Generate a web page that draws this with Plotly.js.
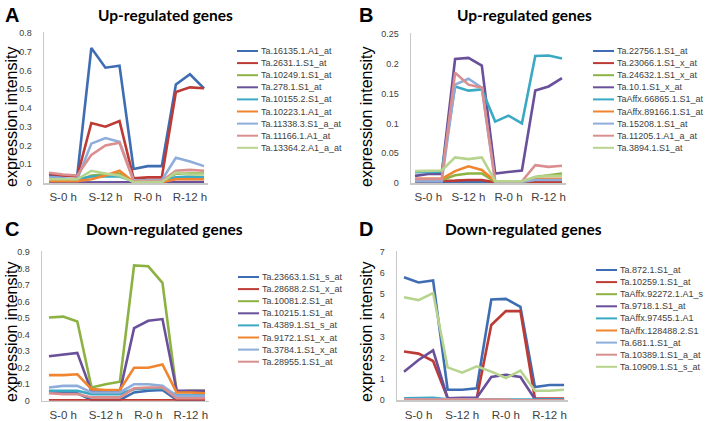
<!DOCTYPE html>
<html>
<head>
<meta charset="utf-8">
<script src="https://cdn.plot.ly/plotly-3.0.1.min.js"></script>
<style>
  html, body { margin: 0; padding: 0; background: #fff; }
  #plot { width: 707px; height: 421px; }
</style>
</head>
<body>
<div id="plot"></div>
<script>
// Условия (по 3 повтора на каждое)
const conditions = ["S-0 h", "S-12 h", "R-0 h", "R-12 h"];
const replicates = 3;

// Цвета линий (палитра Excel)
const lineColors = ["#3f6db3", "#bd3a35", "#8db244", "#6a4f9a", "#3aa9c3",
                    "#f0842f", "#8eaddb", "#da8f8e", "#b7d48e"];

// A: Up-regulated genes
const genesA = ["Ta.16135.1.A1_at", "Ta.2631.1.S1_at", "Ta.10249.1.S1_at", "Ta.278.1.S1_at",
  "Ta.10155.2.S1_at", "Ta.10223.1.A1_at", "Ta.11338.3.S1_a_at", "Ta.11166.1.A1_at", "Ta.13364.2.A1_a_at"];
const valuesA = [
  [0.04, 0.04, 0.04, 0.72, 0.615, 0.625, 0.075, 0.09, 0.09, 0.525, 0.58, 0.505],
  [0.05, 0.04, 0.035, 0.32, 0.30, 0.33, 0.025, 0.03, 0.03, 0.485, 0.51, 0.505],
  [0.01, 0.01, 0.01, 0.04, 0.045, 0.05, 0.005, 0.005, 0.005, 0.05, 0.05, 0.05],
  [0.002, 0.002, 0.002, 0.005, 0.005, 0.005, 0.002, 0.002, 0.002, 0.005, 0.005, 0.005],
  [0.02, 0.02, 0.02, 0.035, 0.035, 0.035, 0.01, 0.01, 0.01, 0.03, 0.035, 0.03],
  [0.01, 0.01, 0.01, 0.02, 0.04, 0.065, 0.005, 0.005, 0.005, 0.02, 0.02, 0.02],
  [0.03, 0.025, 0.02, 0.21, 0.24, 0.22, 0.015, 0.015, 0.015, 0.135, 0.115, 0.09],
  [0.055, 0.045, 0.04, 0.15, 0.20, 0.215, 0.01, 0.01, 0.01, 0.065, 0.07, 0.065],
  [0.02, 0.02, 0.02, 0.065, 0.05, 0.04, 0.005, 0.005, 0.005, 0.055, 0.045, 0.045]
];

// B: Up-regulated genes
const genesB = ["Ta.22756.1.S1_at", "Ta.23066.1.S1_x_at", "Ta.24632.1.S1_x_at", "Ta.10.1.S1_x_at",
  "TaAffx.66865.1.S1_at", "TaAffx.89166.1.S1_at", "Ta.15208.1.S1_at", "Ta.11205.1.A1_a_at", "Ta.3894.1.S1_at"];
const valuesB = [
  [0.001, 0.001, 0.001, 0.002, 0.002, 0.002, 0.001, 0.001, 0.001, 0.002, 0.002, 0.002],
  [0.003, 0.003, 0.003, 0.004, 0.005, 0.005, 0.001, 0.001, 0.001, 0.002, 0.002, 0.002],
  [0.005, 0.005, 0.005, 0.013, 0.016, 0.016, 0.002, 0.002, 0.002, 0.010, 0.013, 0.016],
  [0.012, 0.015, 0.015, 0.208, 0.210, 0.197, 0.016, 0.019, 0.021, 0.155, 0.162, 0.176],
  [0.018, 0.019, 0.019, 0.162, 0.155, 0.157, 0.103, 0.113, 0.100, 0.213, 0.214, 0.209],
  [0.007, 0.007, 0.007, 0.020, 0.028, 0.022, 0.003, 0.003, 0.003, 0.007, 0.007, 0.007],
  [0.003, 0.003, 0.003, 0.165, 0.175, 0.160, 0.002, 0.002, 0.002, 0.005, 0.005, 0.005],
  [0.007, 0.007, 0.007, 0.185, 0.165, 0.160, 0.003, 0.003, 0.003, 0.030, 0.027, 0.029],
  [0.020, 0.021, 0.021, 0.043, 0.040, 0.043, 0.003, 0.003, 0.003, 0.010, 0.012, 0.012]
];

// C: Down-regulated genes
const genesC = ["Ta.23663.1.S1_s_at", "Ta.28688.2.S1_x_at", "Ta.10081.2.S1_at", "Ta.10215.1.S1_at",
  "Ta.4389.1.S1_s_at", "Ta.9172.1.S1_x_at", "Ta.3784.1.S1_x_at", "Ta.28955.1.S1_at"];
const valuesC = [
  [0.05, 0.05, 0.045, 0.005, 0.005, 0.005, 0.05, 0.06, 0.065, 0.005, 0.005, 0.005],
  [0.002, 0.002, 0.002, 0.002, 0.002, 0.002, 0.002, 0.002, 0.002, 0.002, 0.002, 0.002],
  [0.505, 0.51, 0.48, 0.08, 0.10, 0.115, 0.82, 0.815, 0.715, 0.055, 0.06, 0.06],
  [0.27, 0.28, 0.29, 0.055, 0.055, 0.055, 0.44, 0.485, 0.495, 0.06, 0.06, 0.06],
  [0.06, 0.06, 0.06, 0.04, 0.04, 0.04, 0.07, 0.075, 0.075, 0.035, 0.035, 0.035],
  [0.155, 0.155, 0.16, 0.07, 0.065, 0.065, 0.20, 0.20, 0.22, 0.05, 0.05, 0.045],
  [0.08, 0.09, 0.09, 0.05, 0.05, 0.05, 0.10, 0.10, 0.09, 0.03, 0.03, 0.03],
  [0.045, 0.04, 0.04, 0.02, 0.02, 0.02, 0.075, 0.08, 0.08, 0.015, 0.015, 0.015]
];

// D: Down-regulated genes
const genesD = ["Ta.872.1.S1_at", "Ta.10259.1.S1_at", "TaAffx.92272.1.A1_s", "Ta.9718.1.S1_at",
  "TaAffx.97455.1.A1", "TaAffx.128488.2.S1", "Ta.681.1.S1_at", "Ta.10389.1.S1_a_at", "Ta.10909.1.S1_s_at"];
const valuesD = [
  [5.8, 5.55, 5.65, 0.5, 0.5, 0.57, 4.75, 4.78, 4.4, 0.62, 0.72, 0.72],
  [2.3, 2.2, 1.85, 0.1, 0.1, 0.1, 3.55, 4.2, 4.2, 0.08, 0.08, 0.08],
  [0.05, 0.05, 0.05, 0.03, 0.03, 0.03, 0.05, 0.05, 0.05, 0.03, 0.03, 0.03],
  [1.35, 1.9, 2.35, 0.1, 0.12, 0.12, 1.1, 1.2, 1.1, 0.05, 0.05, 0.05],
  [0.1, 0.12, 0.12, 0.05, 0.05, 0.05, 0.05, 0.05, 0.05, 0.03, 0.03, 0.03],
  [0.03, 0.03, 0.03, 0.02, 0.02, 0.02, 0.03, 0.03, 0.03, 0.02, 0.02, 0.02],
  [0.05, 0.05, 0.05, 0.03, 0.03, 0.03, 0.05, 0.05, 0.05, 0.03, 0.03, 0.03],
  [0.04, 0.04, 0.04, 0.02, 0.02, 0.02, 0.04, 0.04, 0.04, 0.02, 0.02, 0.02],
  [4.85, 4.72, 5.05, 1.55, 1.3, 1.6, 1.35, 1.05, 1.4, 0.45, 0.45, 0.5]
];

const W = 707, H = 421;
const px = (x) => x / W;
const py = (y) => 1 - y / H;

// Позиции по оси x: индекс образца
const xs = [];
conditions.forEach((c, i) => { for (let r = 0; r < replicates; r++) xs.push(i * replicates + r); });
const tickPos = conditions.map((c, i) => i * replicates + 1);

// Описание панелей (в пикселях)
const panels = [
  { id: "A", title: "Up-regulated genes", genes: genesA, values: valuesA,
    xd: [44, 208], yd: [33, 183], xr: [-0.36, 11.28], yr: [0, 0.8], dtick: 0.1,
    titleX: 165, titleY: 15, letterX: 3, letterY: 15, yTitleX: 11, yTitleY: 117,
    legX: 237, legY: 51 },
  { id: "B", title: "Up-regulated genes", genes: genesB, values: valuesB,
    xd: [411, 566], yd: [34, 183], xr: [-0.3, 11.3], yr: [0, 0.25], dtick: 0.05,
    titleX: 524, titleY: 15, letterX: 357, letterY: 15, yTitleX: 366, yTitleY: 117,
    legX: 593, legY: 51 },
  { id: "C", title: "Down-regulated genes", genes: genesC, values: valuesC,
    xd: [42, 209], yd: [252.3, 400.7], xr: [-0.49, 11.28], yr: [0, 0.9], dtick: 0.1,
    titleX: 164, titleY: 229, letterX: 3, letterY: 229, yTitleX: 11, yTitleY: 332,
    legX: 238, legY: 277 },
  { id: "D", title: "Down-regulated genes", genes: genesD, values: valuesD,
    xd: [397, 568], yd: [251.7, 400.3], xr: [-0.48, 11.27], yr: [0, 7], dtick: 1,
    titleX: 523, titleY: 229, letterX: 357, letterY: 229, yTitleX: 366, yTitleY: 332,
    legX: 596, legY: 270 }
];

const data = [];
const shapes = [];
const annotations = [];
const layout = {
  width: W, height: H,
  margin: { l: 0, r: 0, t: 0, b: 0 },
  paper_bgcolor: "#fff", plot_bgcolor: "#fff",
  showlegend: false,
  font: { family: "Liberation Sans, Arial, sans-serif", color: "#404040" }
};

panels.forEach((p, k) => {
  const n = k === 0 ? "" : String(k + 1);
  const xa = "x" + n, ya = "y" + n;

  p.genes.forEach((g, i) => {
    data.push({
      x: xs, y: p.values[i], xaxis: xa, yaxis: ya,
      type: "scatter", mode: "lines", name: g,
      line: { color: lineColors[i], width: 2.6 },
      hoverinfo: "name+y"
    });

    // Легенда вручную — компактнее, чем у Plotly
    const yy = p.legY + i * 12.1;
    shapes.push({
      type: "line", xref: "paper", yref: "paper",
      x0: px(p.legX), x1: px(p.legX + 21), y0: py(yy), y1: py(yy),
      line: { color: lineColors[i], width: 2 }
    });
    annotations.push({
      xref: "paper", yref: "paper", x: px(p.legX + 22), y: py(yy),
      xanchor: "left", yanchor: "middle", showarrow: false, text: g,
      font: { size: 9, color: "#404040", family: "Liberation Sans, Arial, sans-serif" }
    });
  });

  // Небольшой запас сверху, чтобы верхняя метка не пропадала
  const pad = 1;
  const yTop = p.yr[1] + p.yr[1] * pad / (p.yd[1] - p.yd[0]);
  const yTicks = [];
  for (let t = 0; t <= p.yr[1] + 1e-9; t = Math.round((t + p.dtick) * 1000) / 1000) yTicks.push(t);

  layout["xaxis" + n] = {
    domain: [px(p.xd[0]), px(p.xd[1])], anchor: ya,
    range: p.xr, tickvals: tickPos, ticktext: conditions,
    showgrid: false, zeroline: false, showline: true,
    linecolor: "#c8c8c8", linewidth: 1.5, ticks: "",
    tickfont: { size: 11.5, color: "#404040" }, ticklabelstandoff: 3
  };
  layout["yaxis" + n] = {
    domain: [py(p.yd[1]), py(p.yd[0] - pad)], anchor: xa,
    range: [p.yr[0], yTop], tickvals: yTicks, ticktext: yTicks.map(String),
    showgrid: false, zeroline: false, showline: true,
    linecolor: "#c8c8c8", linewidth: 1.5, ticks: "",
    tickfont: { size: 9, color: "#404040" }, ticklabelstandoff: 9
  };

  annotations.push({
    xref: "paper", yref: "paper", x: px(p.titleX), y: py(p.titleY),
    xanchor: "center", yanchor: "middle", showarrow: false,
    text: "<b>" + p.title + "</b>",
    font: { size: 15.5, color: "#000", family: "Lato, Liberation Sans, sans-serif" }
  });
  annotations.push({
    xref: "paper", yref: "paper", x: px(p.letterX), y: py(p.letterY),
    xanchor: "left", yanchor: "middle", showarrow: false,
    text: "<b>" + p.id + "</b>",
    font: { size: 20, color: "#000", family: "Liberation Sans, Arial, sans-serif" }
  });
  annotations.push({
    xref: "paper", yref: "paper", x: px(p.yTitleX), y: py(p.yTitleY),
    xanchor: "center", yanchor: "middle", showarrow: false, textangle: -90,
    text: "expression intensity",
    font: { size: 16, color: "#000", family: "Liberation Sans, Arial, sans-serif" }
  });
});

layout.shapes = shapes;
layout.annotations = annotations;

Plotly.newPlot("plot", data, layout, { displayModeBar: false, staticPlot: true });
</script>
</body>
</html>
